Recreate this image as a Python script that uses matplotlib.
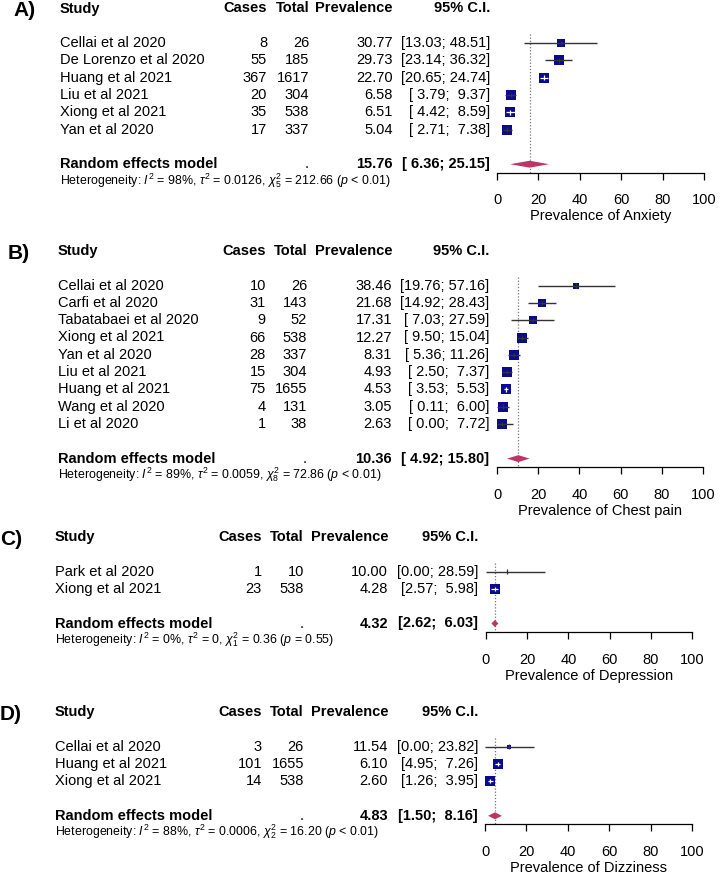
import numpy as np
import matplotlib
matplotlib.use("Agg")
import matplotlib.pyplot as plt
import matplotlib.transforms as mtransforms

plt.rcParams['font.family'] = ['Liberation Sans', 'DejaVu Sans']
plt.rcParams['mathtext.fontset'] = 'custom'
plt.rcParams['mathtext.rm'] = 'Liberation Sans'
plt.rcParams['mathtext.it'] = 'Liberation Sans:italic'
plt.rcParams['mathtext.bf'] = 'Liberation Sans:bold'

# ---- A) Anxiety
a_studies = ["Cellai et al 2020", "De Lorenzo et al 2020", "Huang et al 2021",
             "Liu et al 2021", "Xiong et al 2021", "Yan et al 2020"]
a_cases = [8, 55, 367, 20, 35, 17]
a_total = [26, 185, 1617, 304, 538, 337]
a_prev = [30.77, 29.73, 22.70, 6.58, 6.51, 5.04]
a_lower = [13.03, 23.14, 20.65, 3.79, 4.42, 2.71]
a_upper = [48.51, 36.32, 24.74, 9.37, 8.59, 7.38]
a_random = [15.76, 6.36, 25.15]
a_het = ["98", "0.0126", "5", "212.66", "< 0.01"]

# ---- B) Chest pain
b_studies = ["Cellai et al 2020", "Carfi et al 2020", "Tabatabaei et al 2020",
             "Xiong et al 2021", "Yan et al 2020", "Liu et al 2021",
             "Huang et al 2021", "Wang et al 2020", "Li et al 2020"]
b_cases = [10, 31, 9, 66, 28, 15, 75, 4, 1]
b_total = [26, 143, 52, 538, 337, 304, 1655, 131, 38]
b_prev = [38.46, 21.68, 17.31, 12.27, 8.31, 4.93, 4.53, 3.05, 2.63]
b_lower = [19.76, 14.92, 7.03, 9.50, 5.36, 2.50, 3.53, 0.11, 0.00]
b_upper = [57.16, 28.43, 27.59, 15.04, 11.26, 7.37, 5.53, 6.00, 7.72]
b_random = [10.36, 4.92, 15.80]
b_het = ["89", "0.0059", "8", "72.86", "< 0.01"]

# ---- C) Depression
c_studies = ["Park et al 2020", "Xiong et al 2021"]
c_cases = [1, 23]
c_total = [10, 538]
c_prev = [10.00, 4.28]
c_lower = [0.00, 2.57]
c_upper = [28.59, 5.98]
c_random = [4.32, 2.62, 6.03]
c_het = ["0", "0", "1", "0.36", "= 0.55"]

# ---- D) Dizziness
d_studies = ["Cellai et al 2020", "Huang et al 2021", "Xiong et al 2021"]
d_cases = [3, 101, 14]
d_total = [26, 1655, 538]
d_prev = [11.54, 6.10, 2.60]
d_lower = [0.00, 4.95, 1.26]
d_upper = [23.82, 7.26, 3.95]
d_random = [4.83, 1.50, 8.16]
d_het = ["88", "0.0006", "2", "16.20", "< 0.01"]

W, H = 721, 876
ROW = 17.3
FS = 10.5
SQ_COL = '#0a0a8c'
DIA_COL = '#bf3468'

fig = plt.figure(figsize=(W / 100, H / 100), dpi=100)


def fmt_ci(lo, hi, wlo, whi):
    return f"[{lo:{wlo}.2f}; {hi:{whi}.2f}]"


def forest(label, title, studies, cases, total, prev, lower, upper, random, het,
           top, cols, xr):
    n = len(studies)
    y_top = top - 0.5 * ROW
    y_bot = top + (n + 3.5) * ROW
    ax = fig.add_axes([xr[0] / W, 1 - y_bot / H, (xr[1] - xr[0]) / W, (y_bot - y_top) / H])
    ax.set_xlim(0, 100)
    ax.set_ylim(n + 3.5, -0.5)
    ax.patch.set_visible(False)
    for s in ['top', 'left', 'right']:
        ax.spines[s].set_visible(False)
    ax.spines['bottom'].set_linewidth(0.9)
    ax.set_yticks([])
    ax.set_xticks([0, 20, 40, 60, 80, 100])
    ax.tick_params(axis='x', direction='out', length=5.2, width=0.9, labelsize=FS, pad=9.5)
    ax.annotate(title, xy=(0.5, 0), xycoords='axes fraction', xytext=(0, -43.5 * 0.72),
                textcoords='offset points', ha='center', va='center', fontsize=FS)

    tr = mtransforms.blended_transform_factory(fig.transFigure, ax.transData)
    xs, xc, xt, xp, xci = [c / W for c in cols[1:]]
    fig.text(cols[0] / W, 1 - (top + 2.5) / H, label, fontsize=15, fontweight='bold', va='center')

    # header
    ax.text(xs, 0, "Study", transform=tr, fontsize=FS, fontweight='bold', va='center')
    ax.text(xc, 0, "Cases", transform=tr, fontsize=FS, fontweight='bold', va='center', ha='right')
    ax.text(xt, 0, "Total", transform=tr, fontsize=FS, fontweight='bold', va='center', ha='right')
    ax.text(xp, 0, "Prevalence", transform=tr, fontsize=FS, fontweight='bold', va='center', ha='right')
    ax.text(xci, 0, "95% C.I.", transform=tr, fontsize=FS, fontweight='bold', va='center', ha='right')

    all_lo = list(lower) + [random[1]]
    all_hi = list(upper) + [random[2]]
    wlo = max(len(f"{v:.2f}") for v in all_lo)
    whi = max(len(f"{v:.2f}") for v in all_hi)

    # weights (random effects) for square sizes
    tau2 = float(het[1])
    p = np.array(cases) / np.array(total)
    w = 1.0 / (p * (1 - p) / np.array(total) + tau2)
    rel = w / w.max()
    side_px = 9.5 * np.sqrt(rel)
    px_per_unit = (xr[1] - xr[0]) / 100.0

    rows = np.arange(n) + 2
    for i in range(n):
        y = rows[i]
        ax.text(xs, y, studies[i], transform=tr, fontsize=FS, va='center')
        ax.text(xc, y, str(cases[i]), transform=tr, fontsize=FS, va='center', ha='right')
        ax.text(xt, y, str(total[i]), transform=tr, fontsize=FS, va='center', ha='right')
        ax.text(xp, y, f"{prev[i]:.2f}", transform=tr, fontsize=FS, va='center', ha='right')
        ax.text(xci, y, fmt_ci(lower[i], upper[i], wlo, whi), transform=tr, fontsize=FS,
                va='center', ha='right')
        ax.scatter([prev[i]], [y], marker='s', s=(side_px[i] * 0.72) ** 2, color=SQ_COL,
                   linewidths=0, zorder=3, clip_on=False)
        inside = (upper[i] - lower[i]) * px_per_unit < side_px[i]
        lc = 'white' if inside else '#333333'
        ax.plot([lower[i], upper[i]], [y, y], color=lc, lw=0.9 if inside else 1.0,
                zorder=4, solid_capstyle='butt', clip_on=False)
        ax.plot([prev[i], prev[i]], [y - 0.13, y + 0.13], color=lc, lw=0.9,
                zorder=4, solid_capstyle='butt', clip_on=False)

    # random effects model
    yr = n + 3
    ax.text(xs, yr, "Random effects model", transform=tr, fontsize=FS, fontweight='bold', va='center')
    ax.text(xt, yr, ".", transform=tr, fontsize=FS, va='center', ha='right')
    ax.text(xp, yr, f"{random[0]:.2f}", transform=tr, fontsize=FS, fontweight='bold',
            va='center', ha='right')
    ax.text(xci, yr, fmt_ci(random[1], random[2], wlo, whi), transform=tr, fontsize=FS,
            fontweight='bold', va='center', ha='right')
    ax.fill([random[1], random[0], random[2], random[0]], [yr, yr - 0.2, yr, yr + 0.2],
            color=DIA_COL, lw=0, zorder=3, clip_on=False)
    ax.vlines(random[0], 1.5, n + 3.5, colors='#777777', linestyles=(0, (1, 1.5)), lw=0.9, zorder=2)

    het_txt = (rf"Heterogeneity: $I^2$ = {het[0]}%, $\tau^2$ = {het[1]}, "
               rf"$\chi^2_{{{het[2]}}}$ = {het[3]} ($p$ {het[4]})")
    ax.text(xs, yr + 0.93, het_txt, transform=tr, fontsize=8.9, va='center')
    return ax


forest("A)", "Prevalence of Anxiety", a_studies, a_cases, a_total, a_prev, a_lower, a_upper,
       a_random, a_het, 8.5, (13, 60, 267, 309, 393, 490), (497, 704))
forest("B)", "Prevalence of Chest pain", b_studies, b_cases, b_total, b_prev, b_lower, b_upper,
       b_random, b_het, 251, (8, 58, 266, 307, 392, 489), (497, 703))
forest("C)", "Prevalence of Depression", c_studies, c_cases, c_total, c_prev, c_lower, c_upper,
       c_random, c_het, 537, (0, 55, 262, 304, 388, 478), (486, 692))
forest("D)", "Prevalence of Dizziness", d_studies, d_cases, d_total, d_prev, d_lower, d_upper,
       d_random, d_het, 712, (0, 55, 262, 304, 388, 478), (485, 692))

fig.savefig("out.png", dpi=100)
